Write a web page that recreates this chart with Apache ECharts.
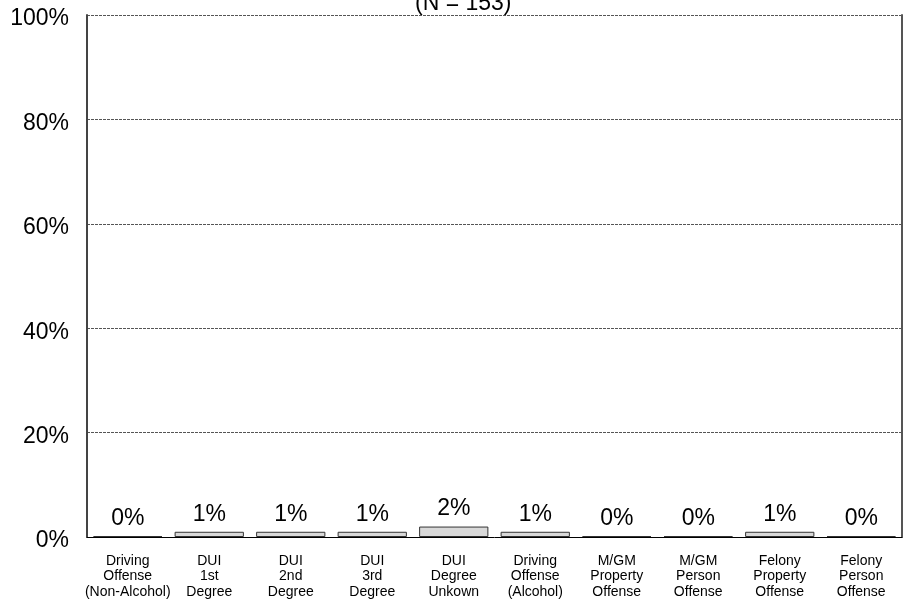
<!DOCTYPE html>
<html><head><meta charset="utf-8">
<script src="https://cdn.jsdelivr.net/npm/echarts@6/dist/echarts.min.js"></script>
<style>html,body{margin:0;padding:0;background:#fff}#c{width:912px;height:606px}</style>
</head><body><div id="c"></div>
<script>
var categories = ["Driving\nOffense\n(Non-Alcohol)", "DUI\n1st\nDegree", "DUI\n2nd\nDegree", "DUI\n3rd\nDegree", "DUI\nDegree\nUnkown", "Driving\nOffense\n(Alcohol)", "M/GM\nProperty\nOffense", "M/GM\nPerson\nOffense", "Felony\nProperty\nOffense", "Felony\nPerson\nOffense"];
var values = [0, 1, 1, 1, 2, 1, 0, 0, 1, 0];
var titleText = "(N = 153)";
var yTicks = [0, 20, 40, 60, 80, 100];

var chart = echarts.init(document.getElementById('c'));
var ff = 'Liberation Sans, Arial, sans-serif';
chart.setOption({
  animation: false,
  textStyle: {fontFamily: ff},
  title: {text: titleText, left: 415, top: -8, padding: 0, textStyle: {fontSize: 23, fontWeight: 'normal', color: '#000', fontFamily: ff}},
  grid: {left: 87, right: 10, top: 15, bottom: 69},
  xAxis: [{
    type: 'category', data: categories,
    axisLine: {show: false}, axisTick: {show: false},
    axisLabel: {interval: 0, fontSize: 14, lineHeight: 15.5, color: '#000', margin: 16, fontFamily: ff}
  }, {
    type: 'category', data: categories, position: 'top',
    axisLine: {show: true, lineStyle: {color: '#000', width: 1}}, axisTick: {show: false}, axisLabel: {show: false}
  }],
  yAxis: [{
    type: 'value', min: yTicks[0], max: yTicks[yTicks.length - 1], interval: 20,
    axisLine: {show: true, lineStyle: {color: '#444', width: 2}}, axisTick: {show: false},
    axisLabel: {formatter: function (v) { return '{a|' + v + '%}'; }, margin: 18,
      rich: {a: {fontSize: 23, color: '#000', padding: [8, 0, 0, 0], fontFamily: ff}}},
    splitLine: {show: true, lineStyle: {type: [3, 1], color: '#555', width: 1}}
  }, {
    type: 'value', min: 0, max: 100, interval: 20, position: 'right',
    axisLine: {show: true, lineStyle: {color: '#555', width: 2}}, axisTick: {show: false}, axisLabel: {show: false}, splitLine: {show: false}
  }],
  series: [{
    type: 'bar', data: values, barCategoryGap: '15%', barMinHeight: 1,
    itemStyle: {color: '#d9d9d9', borderColor: '#333', borderWidth: 1},
    label: {show: true, position: 'top', distance: 6, formatter: '{c}%', fontSize: 23, color: '#000', fontFamily: ff}
  }]
});
</script></body></html>
